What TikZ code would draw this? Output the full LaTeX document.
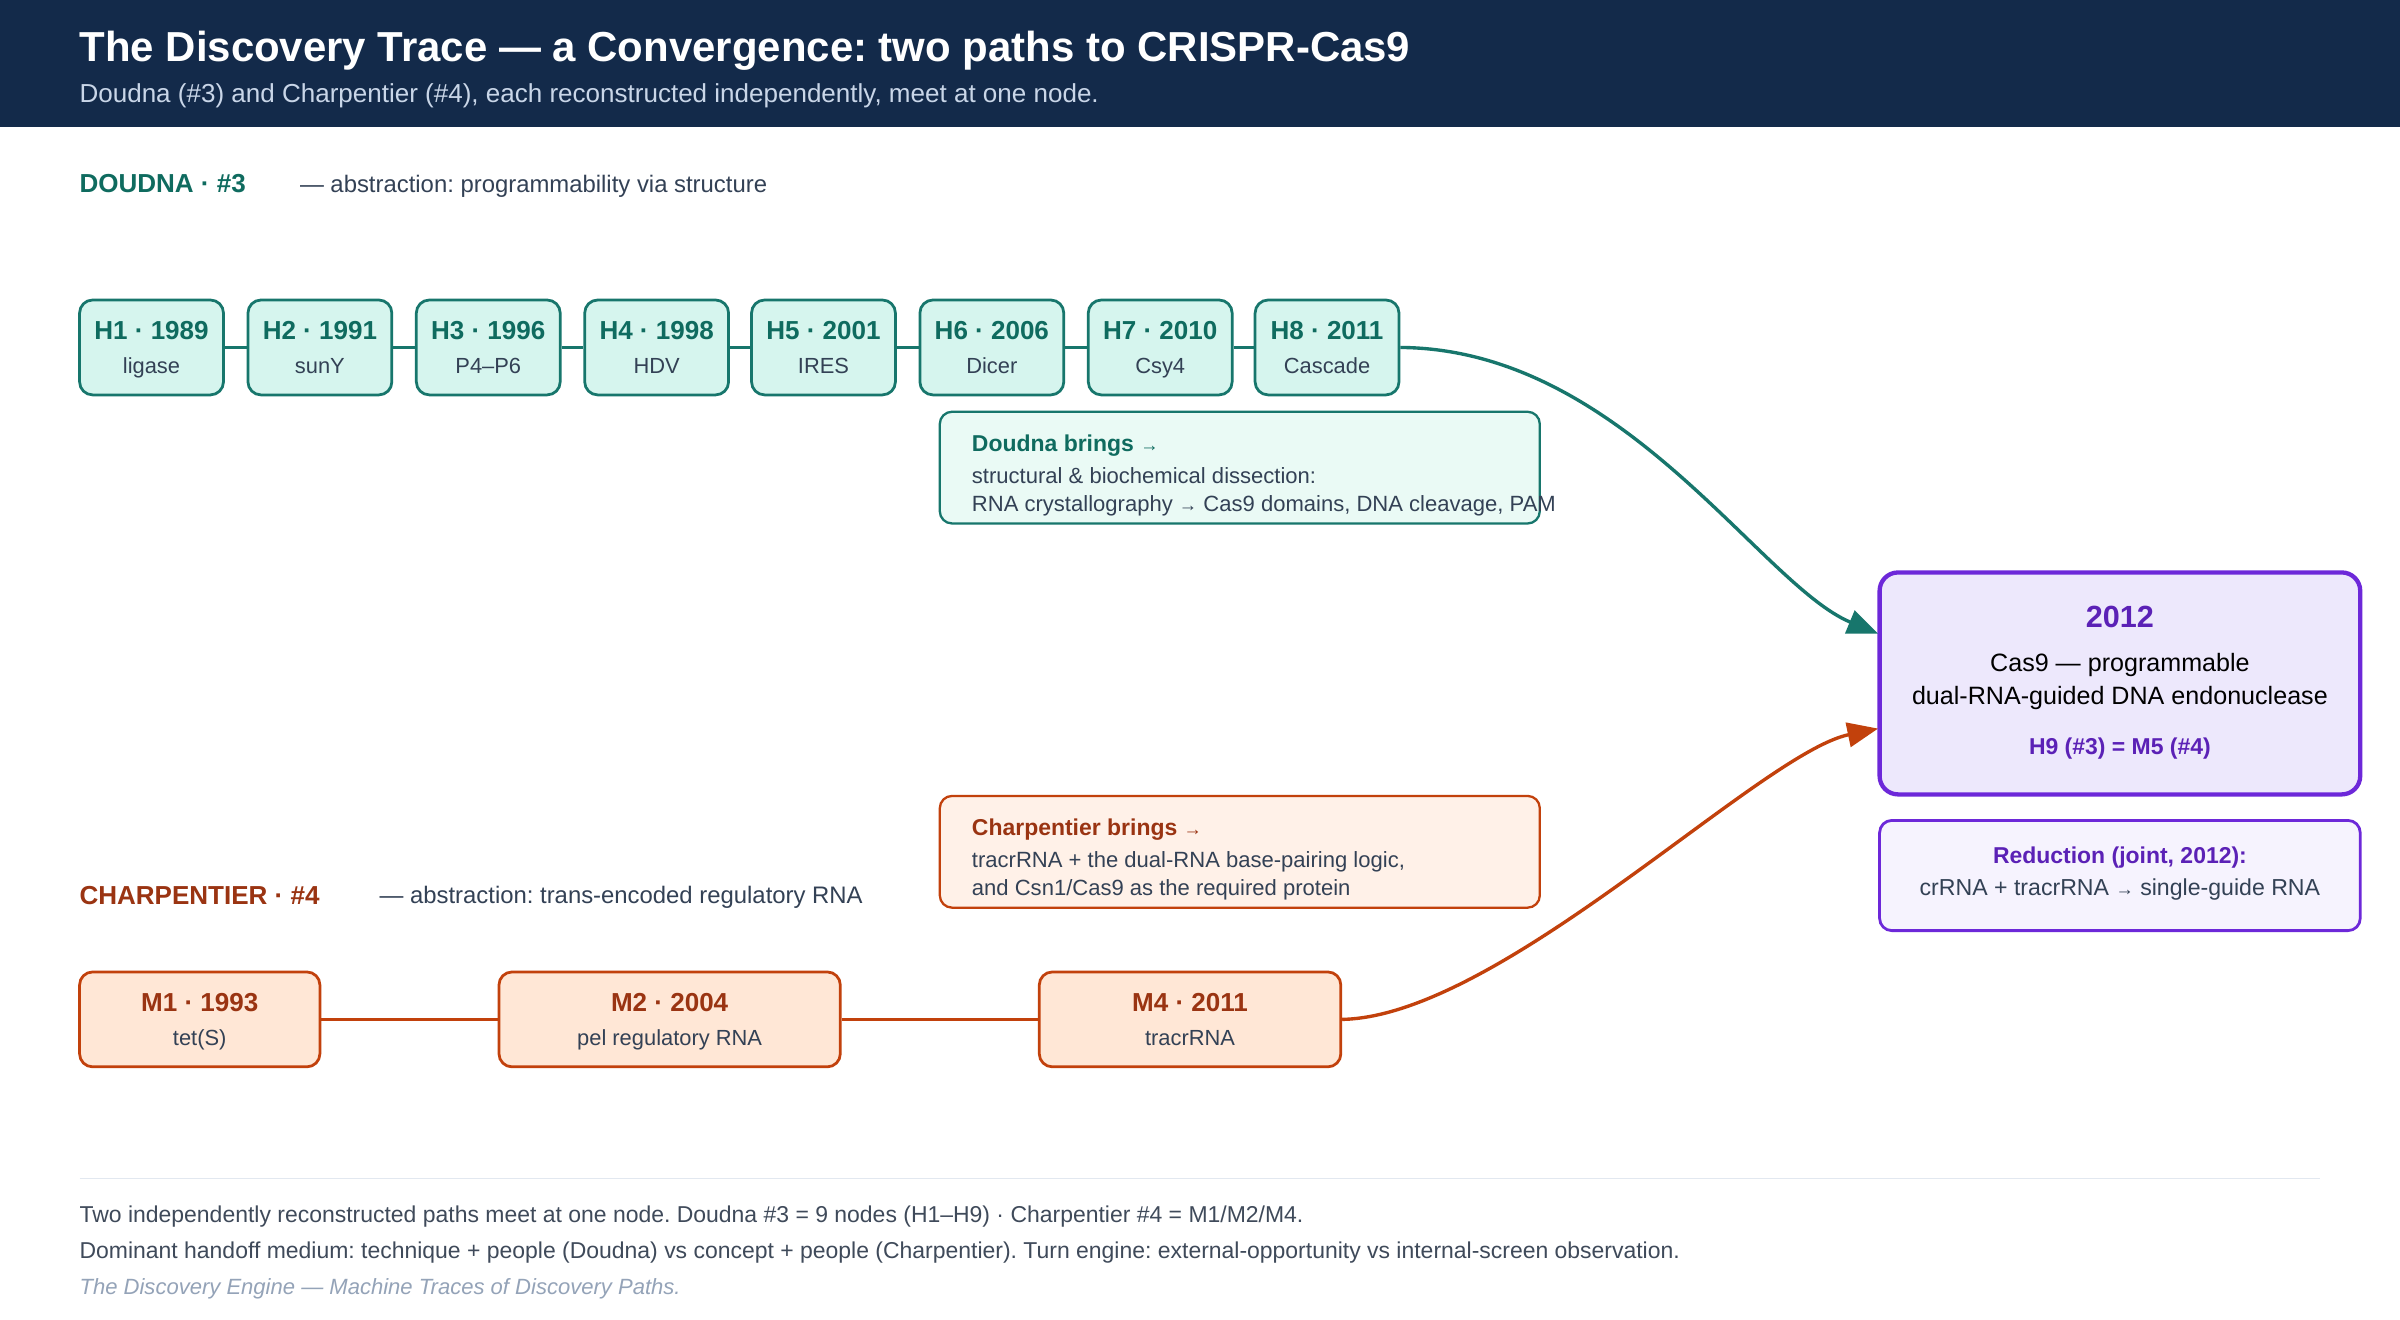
\documentclass[tikz,border=0pt]{standalone}
\usepackage{fontspec}
\setmainfont{Liberation Sans}
\usetikzlibrary{arrows.meta}
\definecolor{navy}{HTML}{132A4A}
\definecolor{subt}{HTML}{C9D6E8}
\definecolor{tealb}{HTML}{17766C}
\definecolor{tealt}{HTML}{0F6B5F}
\definecolor{hfill}{HTML}{D6F5EE}
\definecolor{dbfill}{HTML}{EAFAF5}
\definecolor{orb}{HTML}{C2410C}
\definecolor{ort}{HTML}{9A3412}
\definecolor{mfill}{HTML}{FFE7D6}
\definecolor{cbfill}{HTML}{FFF1E8}
\definecolor{purb}{HTML}{6D28D9}
\definecolor{purt}{HTML}{5B21B6}
\definecolor{casfill}{HTML}{EDE8FC}
\definecolor{redfill}{HTML}{F6F3FE}
\definecolor{graytxt}{HTML}{334155}
\definecolor{foot}{HTML}{3F4A5A}
\definecolor{ital}{HTML}{94A3B8}
\definecolor{sep}{HTML}{E2E8F0}
\newcommand\fsz[2]{\fontsize{#1}{#2}\selectfont}
\newcommand\arr{{\fsz{12}{13}→}}
\frenchspacing
\tikzset{
  txt/.style={inner sep=0pt, outer sep=0pt},
  hbox/.style={draw=tealb, fill=hfill, line width=1.8pt, rounded corners=8.5pt, minimum width=94pt, minimum height=62pt, inner sep=0pt},
  mbox/.style={draw=orb, fill=mfill, line width=1.8pt, rounded corners=8.5pt, minimum height=62pt, inner sep=0pt},
  htitle/.style={txt, anchor=base, text=tealt, font=\fsz{17}{20}\bfseries},
  mtitle/.style={txt, anchor=base, text=ort, font=\fsz{17}{20}\bfseries},
  sublab/.style={txt, anchor=base, text=graytxt, font=\fsz{14.3}{17}},
  hlink/.style={draw=tealb, line width=1.5pt},
  mlink/.style={draw=orb, line width=1.5pt},
  infotxt/.style={txt, anchor=base west, text=graytxt, font=\fsz{14.4}{17}},
  bigarrow/.style={line width=2.2pt, -{Triangle[length=20pt,width=16pt]}},
}
\begin{document}
\begin{tikzpicture}[x=1pt,y=-1pt]
\useasboundingbox (0,0) rectangle (1568,862);
\fill[white] (0,0) rectangle (1568,862);
% header
\fill[navy] (0,0) rectangle (1568,83);
\node[txt, anchor=base west, text=white, font=\fsz{27.4}{32}\bfseries] (title) at (52,40) {The Discovery Trace — a Convergence: two paths to CRISPR-Cas9};
\node[txt, anchor=base west, text=subt, font=\fsz{17}{20}] (subtitle) at (52,67) {Doudna (\#3) and Charpentier (\#4), each reconstructed independently, meet at one node.};
% Doudna heading
\node[txt, anchor=base west, text=tealt, font=\fsz{17}{20}\bfseries] (dhead) at (52,126) {DOUDNA · \#3};
\node[txt, anchor=base west, text=graytxt, font=\fsz{15.6}{19}] (dabs) at (196,125.5) {— abstraction: programmability via structure};
% H boxes
\foreach \i/\x/\yr/\lab in {1/99/1989/ligase, 2/209/1991/sunY, 3/319/1996/P4–P6, 4/429/1998/HDV, 5/538/2001/IRES, 6/648/2006/Dicer, 7/758/2010/Csy4, 8/867/2011/Cascade}{
  \node[hbox] (h\i) at (\x,227) {};
  \node[htitle] (h\i t) at (\x,222) {H\i\ · \yr};
  \node[sublab] (h\i s) at (\x,244) {\lab};
}
\foreach \a/\b in {1/2,2/3,3/4,4/5,5/6,6/7,7/8}{
  \draw[hlink] (h\a.east) -- (h\b.west);
}
% Doudna brings
\node[draw=tealb, fill=dbfill, line width=1.5pt, rounded corners=8pt, minimum width=392pt, minimum height=73pt, inner sep=0pt] (dbr) at (810,305.5) {};
\node[txt, anchor=base west, text=tealt, font=\fsz{15}{18}\bfseries] (dbr1) at (635,295) {Doudna brings \arr};
\node[infotxt] (dbr2) at (635,316) {structural \& biochemical dissection:};
\node[infotxt] (dbr3) at (635,334) {RNA crystallography \arr\ Cas9 domains, DNA cleavage, PAM};
% Charpentier brings
\node[draw=orb, fill=cbfill, line width=1.5pt, rounded corners=8pt, minimum width=392pt, minimum height=73pt, inner sep=0pt] (cbr) at (810,556.5) {};
\node[txt, anchor=base west, text=ort, font=\fsz{15}{18}\bfseries] (cbr1) at (635,546) {Charpentier brings \arr};
\node[infotxt] (cbr2) at (635,567) {tracrRNA + the dual-RNA base-pairing logic,};
\node[infotxt] (cbr3) at (635,585) {and Csn1/Cas9 as the required protein};
% Charpentier heading
\node[txt, anchor=base west, text=ort, font=\fsz{17}{20}\bfseries] (chead) at (52,591) {CHARPENTIER · \#4};
\node[txt, anchor=base west, text=graytxt, font=\fsz{15.6}{19}] (cabs) at (248,590.5) {— abstraction: trans-encoded regulatory RNA};
% M boxes
\node[mbox, minimum width=157pt] (m1) at (130.5,666) {};
\node[mbox, minimum width=223pt] (m2) at (437.5,666) {};
\node[mbox, minimum width=197pt] (m4) at (777.5,666) {};
\node[mtitle] (m1t) at (130.5,661) {M1 · 1993};
\node[sublab] (m1s) at (130.5,683) {tet(S)};
\node[mtitle] (m2t) at (437.5,661) {M2 · 2004};
\node[sublab] (m2s) at (437.5,683) {pel regulatory RNA};
\node[mtitle] (m4t) at (777.5,661) {M4 · 2011};
\node[sublab] (m4s) at (777.5,683) {tracrRNA};
\draw[mlink] (m1.east) -- (m2.west);
\draw[mlink] (m2.east) -- (m4.west);
% Cas9 box
\node[draw=purb, fill=casfill, line width=2.8pt, rounded corners=12pt, minimum width=314pt, minimum height=145pt, inner sep=0pt] (cas) at (1385,446.5) {};
\node[txt, anchor=base, text=purt, font=\fsz{20}{24}\bfseries] (cas1) at (1385,410) {2012};
\node[txt, anchor=base, text=black, font=\fsz{16.4}{19}] (cas2) at (1385,439) {Cas9 — programmable};
\node[txt, anchor=base, text=black, font=\fsz{16.4}{19}] (cas3) at (1385,460) {dual-RNA-guided DNA endonuclease};
\node[txt, anchor=base, text=purt, font=\fsz{15}{18}\bfseries] (cas4) at (1385,493) {H9 (\#3) = M5 (\#4)};
% Reduction box
\node[draw=purb, fill=redfill, line width=1.8pt, rounded corners=8pt, minimum width=314pt, minimum height=72pt, inner sep=0pt] (red) at (1385,572) {};
\node[txt, anchor=base, text=purt, font=\fsz{15}{18}\bfseries] (red1) at (1385,564) {Reduction (joint, 2012):};
\node[txt, anchor=base, text=graytxt, font=\fsz{15.1}{18}] (red2) at (1385,585) {crRNA + tracrRNA \arr\ single-guide RNA};
% arrows
\coordinate (dIn) at (1227,414);
\coordinate (cIn) at (1227,476);
\draw[draw=tealb, bigarrow] (h8.east) .. controls (1060,228) and (1150,382) .. (dIn);
\draw[draw=orb, bigarrow] (m4.east) .. controls (980,664) and (1150,492) .. (cIn);
% footer
\draw[sep, line width=1pt] (52,770) -- (1516,770);
\node[txt, anchor=base west, text=foot, font=\fsz{15}{18}] (f1) at (52,799) {Two independently reconstructed paths meet at one node. Doudna \#3 = 9 nodes (H1–H9) · Charpentier \#4 = M1/M2/M4.};
\node[txt, anchor=base west, text=foot, font=\fsz{15}{18}] (f2) at (52,822) {Dominant handoff medium: technique + people (Doudna) vs concept + people (Charpentier). Turn engine: external-opportunity vs internal-screen observation.};
\node[txt, anchor=base west, text=ital, font=\fsz{14.4}{17}\itshape] (f3) at (52,846) {The Discovery Engine — Machine Traces of Discovery Paths.};
\end{tikzpicture}
\end{document}
